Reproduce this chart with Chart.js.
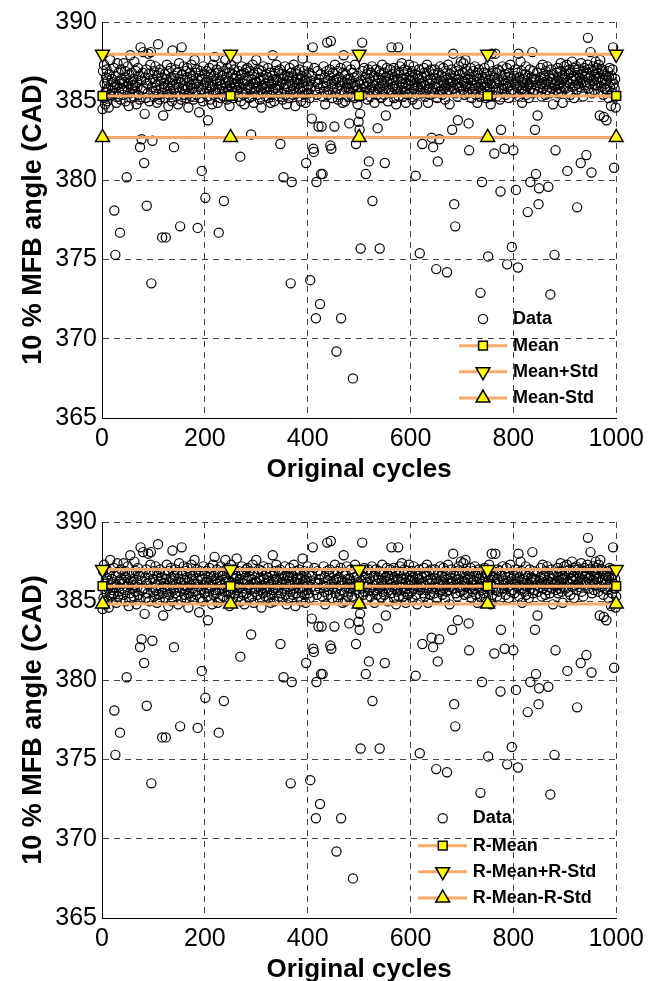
<!DOCTYPE html>
<html><head><meta charset="utf-8">
<script src="https://cdn.jsdelivr.net/npm/chart.js@4"></script>
<style>
html,body{margin:0;padding:0;background:#fff;overflow:hidden;width:650px;height:981px;}
canvas{position:absolute;left:0;}
#c1{top:0;} #c2{top:500px;}
</style></head><body>
<canvas id="c1" width="650" height="490"></canvas>
<canvas id="c2" width="650" height="490"></canvas>
<script>
const FONT = '"Liberation Sans", Arial, Helvetica, sans-serif';
const ORANGE = '#FCA869';
const MARKER_FILL = '#FFFF00';

// 10 % MFB angle (CAD) per original cycle 1..1000
const angleData = [
384.5,386.9,385.2,387.3,386.1,384.8,385.6,386.5,387.0,385.0,386.3,385.8,384.6,386.7,385.4,387.6,386.0,385.3,386.4,385.7,
386.2,385.5,387.1,378.1,385.9,375.3,386.6,384.9,386.0,387.4,385.3,386.8,385.6,386.3,376.7,385.1,387.0,386.4,385.8,386.1,
385.4,387.4,386.2,385.7,386.9,385.0,386.5,380.2,385.9,387.2,386.1,384.7,386.7,385.5,387.9,386.3,385.2,386.8,385.8,386.0,
386.4,385.3,387.5,386.0,385.6,386.9,384.8,386.2,385.9,387.1,385.4,386.6,385.1,382.1,388.4,386.3,382.6,385.7,386.8,388.1,
385.8,381.1,384.2,386.5,385.2,387.0,378.4,386.1,385.5,388.0,386.7,385.0,386.3,387.3,388.1,373.5,385.9,382.5,386.4,385.6,
386.9,385.3,386.2,387.2,385.7,386.0,384.9,386.6,388.6,385.4,386.8,385.1,387.0,386.3,385.8,386.5,376.4,385.5,384.1,386.1,
385.9,386.7,385.2,376.4,386.4,387.3,385.6,386.0,384.7,386.9,385.4,386.2,385.8,387.1,386.5,385.0,388.2,386.3,385.7,382.1,
386.6,385.5,387.0,386.1,385.3,386.8,385.9,384.8,386.4,387.4,385.6,377.1,386.2,385.1,388.4,386.7,385.8,386.0,387.2,385.4,
386.3,385.7,386.9,385.2,386.5,387.1,385.9,384.6,386.2,385.5,386.8,386.0,385.3,387.3,386.4,385.8,386.6,385.1,386.1,387.6,
385.6,386.8,386.1,385.4,387.0,377.0,386.3,385.9,384.3,386.6,385.2,386.9,385.7,380.6,386.4,385.0,387.2,386.0,385.5,386.7,
378.9,386.2,385.8,386.9,385.3,383.8,386.5,385.6,387.1,386.0,385.1,386.7,385.9,384.8,386.3,387.3,385.4,386.6,387.8,385.7,
386.4,385.5,387.0,386.1,384.9,386.8,376.7,385.7,386.3,385.2,387.2,386.0,385.8,386.6,385.3,386.9,378.7,385.6,386.2,387.6,
385.9,386.5,385.1,387.1,386.3,385.6,386.8,384.7,386.0,385.4,387.3,386.2,385.8,386.7,385.2,386.4,387.0,385.5,386.1,385.9,
386.6,387.7,385.7,386.2,385.3,386.9,385.9,386.4,381.5,385.0,386.7,387.2,385.6,386.1,385.4,386.8,384.8,386.3,385.8,387.0,
385.5,386.3,387.1,385.9,386.6,385.2,386.0,386.9,385.7,382.9,386.4,385.3,387.3,386.1,384.9,386.7,385.6,386.2,385.8,387.6,
386.2,385.4,386.8,385.9,387.0,386.3,385.1,386.5,385.7,384.6,386.9,386.0,385.5,387.2,386.4,385.8,386.1,385.3,386.7,385.9,
385.6,386.5,387.1,385.2,386.3,385.9,386.8,384.9,386.1,385.4,386.6,387.9,385.7,386.2,385.0,386.9,385.8,386.4,387.3,386.0,
386.3,385.7,386.9,385.3,386.0,387.0,382.3,385.5,386.7,386.2,385.1,386.4,380.2,385.8,386.6,387.2,385.4,386.1,384.8,386.5,
385.9,386.6,385.2,386.3,387.1,385.6,373.5,386.8,379.9,386.0,385.4,386.5,387.3,385.8,386.2,384.7,386.9,385.5,386.4,386.1,
386.7,385.3,386.1,387.0,385.8,386.4,385.0,386.6,385.6,387.7,386.2,385.9,386.9,385.4,386.3,384.9,381.1,386.5,385.7,387.2,
386.0,385.5,386.8,385.2,373.7,386.3,385.9,383.9,386.6,388.4,382.0,381.8,387.1,385.7,386.2,371.3,379.9,385.4,386.9,386.1,
383.4,386.4,385.8,372.2,386.7,380.4,383.4,385.3,380.4,386.0,387.2,385.6,386.5,384.8,386.2,385.9,386.9,388.7,385.4,386.3,
385.7,386.6,387.0,382.2,388.8,382.0,386.1,385.2,386.8,385.9,386.3,383.4,387.3,385.5,386.4,369.2,385.8,386.9,385.1,386.2,
386.5,385.4,386.0,387.1,371.3,385.7,386.3,384.9,386.8,387.9,385.6,386.2,385.0,386.7,385.9,387.2,386.4,385.3,386.1,385.8,
383.6,386.4,385.6,387.0,386.1,385.3,386.8,367.5,385.9,386.5,385.2,387.3,386.0,382.3,385.7,386.6,384.8,386.2,383.7,385.5,
383.2,384.2,375.7,386.3,385.8,388.7,386.9,385.4,386.1,387.1,385.6,386.5,380.4,385.9,386.7,385.1,386.2,387.0,381.2,385.7,
386.4,385.3,386.8,385.9,387.2,378.7,386.0,385.6,386.6,384.9,386.3,385.7,387.0,386.1,385.4,383.3,386.5,385.8,386.9,375.7,
385.9,386.7,385.2,386.3,387.3,385.6,386.0,386.8,385.4,381.1,386.5,384.1,385.8,387.1,386.2,385.0,386.6,385.7,386.4,387.0,
386.1,385.5,388.4,386.7,385.9,386.3,387.1,385.2,386.5,385.8,386.9,384.8,386.0,385.6,386.4,388.4,385.3,386.8,387.2,386.2,
385.7,386.4,387.4,385.9,386.1,385.3,386.7,387.0,385.6,386.2,384.9,386.5,385.8,386.9,385.4,386.0,387.3,385.5,386.3,386.6,
386.3,385.6,386.9,385.1,386.5,387.2,385.8,386.0,386.7,380.3,385.4,386.2,384.8,386.6,385.9,387.0,386.4,375.4,385.7,386.1,
385.9,386.5,382.3,386.2,385.5,387.1,386.8,385.3,386.0,386.6,385.7,387.3,386.3,384.9,385.8,386.9,386.1,385.4,386.4,387.0,
382.7,386.3,385.8,382.1,386.7,385.5,387.0,386.1,385.9,374.4,386.4,385.2,381.2,386.8,386.0,382.6,385.6,387.2,386.3,385.7,
386.6,385.4,386.2,387.1,385.8,386.5,385.1,386.9,386.0,385.6,374.2,386.4,387.3,385.7,386.1,384.8,386.7,385.9,386.3,387.0,
383.2,386.2,388.0,385.8,378.5,386.6,377.1,385.5,386.9,386.1,385.3,383.8,386.4,387.2,385.9,386.7,385.6,387.5,386.0,386.3,
386.8,385.7,387.4,386.2,385.4,386.5,387.6,385.9,386.1,386.9,385.5,386.4,383.6,381.9,386.7,385.8,387.1,386.3,385.2,386.0,
385.6,386.9,386.3,385.8,387.2,386.0,385.4,386.6,386.2,384.9,386.8,385.9,387.0,386.4,385.3,372.9,386.1,385.7,379.9,386.5,
386.2,385.5,386.8,387.1,385.9,386.4,385.2,386.7,386.0,385.6,375.2,386.3,387.3,385.8,386.6,384.8,386.1,388.0,385.4,386.9,
385.9,386.5,381.7,386.1,388.0,385.7,386.8,385.3,386.4,387.0,385.6,386.2,386.9,385.1,379.3,383.2,386.6,385.8,387.2,386.0,
386.3,385.8,382.0,386.7,385.4,386.1,387.1,374.7,385.9,386.5,385.2,386.8,386.0,387.3,385.6,386.4,375.8,385.7,386.2,381.9,
386.6,385.5,386.1,387.0,379.4,386.3,385.9,386.8,374.5,388.0,385.3,386.5,386.0,387.5,385.7,386.9,384.9,386.2,385.8,386.4,
386.0,385.6,386.7,387.2,385.4,386.3,385.9,378.0,386.6,385.2,386.1,387.0,379.9,385.8,386.5,386.2,388.1,385.5,386.9,386.4,
385.7,383.2,386.4,380.4,386.0,386.8,384.1,385.6,378.5,379.5,386.3,385.9,387.1,386.5,385.3,386.1,387.3,385.8,386.6,386.2,
386.5,385.4,386.9,386.1,385.7,387.2,386.3,379.6,385.9,386.6,385.5,372.8,386.2,387.0,385.8,386.4,384.8,386.7,386.0,375.3,
386.1,381.9,385.7,386.8,386.3,387.1,385.5,386.5,386.0,385.8,386.9,387.4,386.2,385.6,386.6,384.9,386.4,385.9,387.2,386.7,
386.5,385.8,386.9,387.3,380.6,386.2,385.6,386.7,387.0,386.1,385.4,386.8,386.4,387.5,385.9,386.3,386.6,385.2,387.1,386.0,
386.4,387.2,385.7,378.3,386.8,386.1,387.0,385.9,386.5,386.3,381.1,387.4,385.6,386.7,386.2,385.3,386.9,387.1,386.0,386.6,
386.2,381.6,386.8,387.3,389.0,385.8,386.5,387.0,386.1,388.1,386.6,380.5,385.5,386.9,387.2,386.3,385.7,386.7,386.0,387.5,
386.4,387.1,386.0,386.8,385.6,387.3,386.5,384.1,387.6,386.2,385.9,386.9,387.0,386.3,385.4,384.0,386.7,385.8,386.1,386.6,
383.8,386.3,385.7,386.9,385.2,386.5,387.1,385.9,386.2,384.7,386.6,385.5,387.0,388.4,386.1,380.8,385.8,386.4,384.6,385.3
];

const markerCycles = [1, 250, 500, 750, 1000];
const xTickValues = [0, 200, 400, 600, 800, 1000];
const yTickValues = [365, 370, 375, 380, 385, 390];
// Mean, Mean+Std, Mean-Std levels (top) and robust versions (bottom)
const topLevels = [385.33, 387.96, 382.71];
const bottomLevels = [385.95, 387.0, 384.83];
const topNames = ['Data', 'Mean', 'Mean+Std', 'Mean-Std'];
const bottomNames = ['Data', 'R-Mean', 'R-Mean+R-Std', 'R-Mean-R-Std'];
const xTitle = 'Original cycles';
const yTitle = '10 % MFB angle (CAD)';

const statStyles = [
  {pointStyle: 'rect', rotation: 0, radius: 6.2},
  {pointStyle: 'triangle', rotation: 180, radius: 8},
  {pointStyle: 'triangle', rotation: 0, radius: 8}
];

function drawMarker(ctx, opts, x, y) {
  if (Chart.helpers && Chart.helpers.drawPoint) {
    Chart.helpers.drawPoint(ctx, opts, x, y);
  } else {
    ctx.beginPath();
    ctx.arc(x, y, opts.radius, 0, Math.PI * 2);
    ctx.fill(); ctx.stroke();
  }
}

function legendPlugin(names, box) {
  return {
    id: 'matlabLegend',
    afterDraw(chart) {
      const ctx = chart.ctx;
      ctx.save();
      names.forEach((name, i) => {
        const y = box.rowY[i];
        if (i === 0) {
          ctx.lineWidth = 1.2; ctx.strokeStyle = '#000'; ctx.fillStyle = 'rgba(0,0,0,0)';
          drawMarker(ctx, {pointStyle: 'circle', rotation: 0, radius: 4.6, borderWidth: 1.2}, box.symX, y);
        } else {
          const st = statStyles[i - 1];
          ctx.strokeStyle = ORANGE; ctx.lineWidth = 3;
          ctx.beginPath(); ctx.moveTo(box.lineX1, y); ctx.lineTo(box.lineX2, y); ctx.stroke();
          ctx.strokeStyle = '#000'; ctx.lineWidth = 1.5; ctx.fillStyle = MARKER_FILL;
          drawMarker(ctx, {pointStyle: st.pointStyle, rotation: st.rotation, radius: st.radius, borderWidth: 1.5}, box.symX, y);
        }
        ctx.fillStyle = '#000';
        ctx.font = 'bold 18px ' + FONT;
        ctx.textAlign = 'left'; ctx.textBaseline = 'middle';
        ctx.fillText(name, box.textX, y);
      });
      ctx.restore();
    }
  };
}

function makeChart(canvasId, levels, names, box) {
  const points = angleData.map((v, i) => ({x: i + 1, y: v}));
  const datasets = levels.map((lv, k) => ({
    label: names[k + 1],
    data: markerCycles.map(c => ({x: c, y: lv})),
    showLine: true,
    borderColor: ORANGE,
    borderWidth: 3,
    pointStyle: statStyles[k].pointStyle,
    pointRotation: statStyles[k].rotation,
    pointRadius: statStyles[k].radius,
    pointBackgroundColor: MARKER_FILL,
    pointBorderColor: '#000',
    pointBorderWidth: 1.5,
    clip: false,
    order: 1 + k
  }));
  datasets.push({
    label: names[0],
    data: points,
    showLine: false,
    pointStyle: 'circle',
    pointRadius: 4.6,
    pointBorderColor: '#000',
    pointBackgroundColor: 'rgba(0,0,0,0)',
    pointBorderWidth: 1.2,
    clip: false,
    order: 10
  });

  return new Chart(document.getElementById(canvasId), {
    type: 'scatter',
    data: {datasets},
    options: {
      responsive: false,
      animation: false,
      devicePixelRatio: 1,
      events: [],
      layout: {padding: {left: 0, right: 31, top: 22, bottom: 0}},
      plugins: {legend: {display: false}, tooltip: {enabled: false}, title: {display: false}},
      scales: {
        x: {
          type: 'linear', min: 0, max: 1000,
          afterBuildTicks: s => { s.ticks = xTickValues.map(v => ({value: v})); },
          afterFit: s => { s.height = 72; },
          ticks: {font: {family: FONT, size: 25}, color: '#000', padding: 6, maxRotation: 0, autoSkip: false,
                  callback: v => String(v)},
          grid: {color: '#444', lineWidth: 1, drawTicks: false},
          border: {display: true, color: '#000', width: 1, dash: [6, 5]},
          title: {display: true, text: xTitle, color: '#000',
                  font: {family: FONT, size: 26, weight: 'bold'}, padding: {top: 0, bottom: 5}}
        },
        y: {
          type: 'linear', min: 365, max: 390,
          afterBuildTicks: s => { s.ticks = yTickValues.map(v => ({value: v})); },
          afterFit: s => { s.width = 102; },
          ticks: {font: {family: FONT, size: 25}, color: '#000', padding: 5, autoSkip: false,
                  callback: v => String(v)},
          grid: {color: '#444', lineWidth: 1, drawTicks: false},
          border: {display: true, color: '#000', width: 1, dash: [6, 5]},
          title: {display: true, text: yTitle, color: '#000',
                  font: {family: FONT, size: 27, weight: 'bold'}, padding: {top: 17, bottom: 0}}
        }
      }
    },
    plugins: [legendPlugin(names, box)]
  });
}

makeChart('c1', topLevels, topNames,
  {lineX1: 459, lineX2: 507, symX: 483, textX: 513, rowY: [319, 345.7, 371.7, 398]});
makeChart('c2', bottomLevels, bottomNames,
  {lineX1: 418, lineX2: 467, symX: 442.7, textX: 472.7, rowY: [318.3, 345.7, 371.7, 398]});
</script>
</body></html>
